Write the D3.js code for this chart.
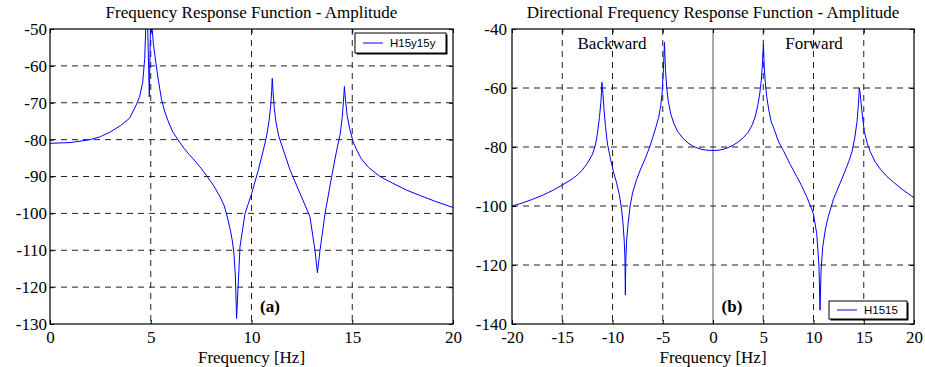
<!DOCTYPE html>
<html>
<head>
<meta charset="utf-8">
<script src="https://cdn.jsdelivr.net/npm/d3@7"></script>
<style>
  body { margin: 0; background: #fff; }
  svg { display: block; }
</style>
</head>
<body>
<div id="chart"></div>
<script>
// data
var leftFreq = [0, 1, 2, 2.5, 3, 3.5, 3.95, 4.28, 4.45, 4.6, 4.70, 4.76, 4.84, 4.93, 4.99, 5.04, 5.13, 5.25, 5.38, 5.53, 5.7, 5.9,
  6.1, 6.35, 6.6, 6.9, 7.2, 7.5, 7.8, 8.1, 8.44, 8.65, 8.8, 8.95, 9.05, 9.13, 9.2, 9.26, 9.43, 9.68, 10.01, 10.34, 10.59, 10.75,
  10.87, 10.95, 11.0, 11.03, 11.07, 11.13, 11.22, 11.35, 11.58, 11.91, 12.41, 12.9, 13.15, 13.27, 13.4, 13.65, 13.98, 14.23, 14.4,
  14.5, 14.56, 14.61, 14.66, 14.75, 14.87, 15.04, 15.22, 15.45, 15.8, 16.38, 17.0, 17.7, 18.43, 19.2, 20];
var leftAmp = [-81.0, -80.8, -80.0, -79.2, -77.9, -76.2, -74.2, -70.6, -68.3, -64.5, -58.0, -48, -48, -68.4, -48, -48, -54, -59, -64, -69,
  -72.5, -75.5, -78, -80, -82, -84, -85.8, -87.8, -90, -92.3, -95.5, -98, -101, -104.5, -107.5, -111, -117, -128.5, -109, -100,
  -94.6, -88.2, -82.8, -79, -75, -71, -67, -63.4, -67, -71.5, -75.5, -79, -82.8, -88.2, -94.6, -100.9, -110, -116.1, -110, -100, -90,
  -82.8, -78.5, -74, -70, -65.6, -69, -73.5, -77, -80.5, -82.8, -85.2, -87.5, -90, -91.8, -93.7, -95.3, -96.9, -98.4];

var rightFreq = [-20, -19, -18, -17, -16, -15, -14, -13.5, -13, -12.5, -12, -11.7, -11.5, -11.3, -11.15, -11.05, -10.95, -10.85,
  -10.7, -10.5, -10.2, -9.9, -9.6, -9.3, -9.1, -8.95, -8.83, -8.76, -8.72, -8.68, -8.6, -8.45, -8.25, -8.0, -7.6, -7.2, -6.73,
  -6.3, -6.0, -5.7, -5.41, -5.2, -5.07, -4.95, -4.83, -4.73, -4.6, -4.45, -4.2, -3.9, -3.5, -3.0, -2.5, -2, -1.5, -1, -0.5, 0,
  0.5, 1, 1.5, 2, 2.5, 3, 3.5, 3.9, 4.2, 4.45, 4.65, 4.8, 4.9, 5.02, 5.1, 5.2, 5.35, 5.55, 5.8, 6.04, 6.5, 7.0, 7.7, 8.33, 8.8,
  9.32, 9.7, 9.98, 10.32, 10.55, 10.65, 10.75, 10.92, 11.2, 11.47, 12.0, 12.64, 13.1, 13.5, 13.83, 14.1, 14.33, 14.48, 14.56,
  14.65, 14.8, 15.06, 15.35, 15.65, 16.1, 16.65, 17.3, 17.98, 19, 20];
var rightAmp = [-100, -99, -97.8, -96.4, -94.8, -92.9, -90.8, -89.5, -87.8, -85.5, -82.5, -79.3, -75.5, -70, -64.6, -58.1, -62, -67,
  -73, -79, -84, -88.5, -92, -96.5, -101, -106, -112, -118, -130.2, -119, -112, -106, -100, -95.5, -91, -87.5, -83.8,
  -80, -76.8, -73.5, -70, -66, -62, -55, -44.5, -54, -60, -64.5, -68.8, -72, -74.8, -77, -78.6, -79.7, -80.4, -80.9, -81.1, -81.2,
  -81.1, -80.8, -80.2, -79.4, -78.3, -76.9, -75, -72.5, -69.8, -66, -62, -57.5, -53, -45.1, -53, -58, -63, -67.5, -71.5, -73.5, -78, -81.2, -86, -90, -93,
  -96.8, -100, -102.5, -109.3, -120.6, -135.3, -122, -113.8, -107.5, -103.6, -97.5, -92.3, -88.5, -85, -81.6, -77, -71.4, -65, -59.9,
  -62, -67.5, -74.8, -78.8, -81.6, -84.8, -87.5, -90, -92, -94.8, -97.2];

var leftXTicks = [0, 5, 10, 15, 20];
var leftYTicks = [-50, -60, -70, -80, -90, -100, -110, -120, -130];
var rightXTicks = [-20, -15, -10, -5, 0, 5, 10, 15, 20];
var rightYTicks = [-40, -60, -80, -100, -120, -140];

var W = 925, H = 367;
var serif = "'Liberation Serif', 'Times New Roman', serif";
var sans = "'Liberation Sans', Arial, sans-serif";
var plain = d => String(d); // keep the short hyphen minus

var svg = d3.select("#chart").append("svg")
  .attr("width", W)
  .attr("height", H);

function addText(g, x, y, txt, size, anchor, weight, family) {
  return g.append("text")
    .attr("x", x).attr("y", y)
    .attr("text-anchor", anchor || "middle")
    .attr("font-family", family || serif)
    .attr("font-size", size)
    .attr("font-weight", weight || "normal")
    .attr("fill", "#000")
    .text(txt);
}

function panel(opt) {
  var x = d3.scaleLinear().domain(opt.xDomain).range([opt.left, opt.right]);
  var y = d3.scaleLinear().domain(opt.yDomain).range([opt.bottom, opt.top]);
  var g = svg.append("g");

  var clipId = "clip" + opt.id;
  svg.append("clipPath").attr("id", clipId)
    .append("rect")
    .attr("x", opt.left).attr("y", opt.top)
    .attr("width", opt.right - opt.left).attr("height", opt.bottom - opt.top);

  // grid
  g.selectAll(".vgrid")
    .data(opt.xTicks.filter(d => d != opt.xDomain[0] && d != opt.xDomain[1]))
    .enter().append("line")
    .attr("x1", d => x(d)).attr("x2", d => x(d))
    .attr("y1", opt.top).attr("y2", opt.bottom)
    .attr("stroke", "#222")
    .attr("stroke-width", 1)
    .attr("stroke-dasharray", d => (d == 0 ? null : "6,5"))
    .attr("stroke-opacity", d => (d == 0 ? 0.75 : 1));
  g.selectAll(".hgrid")
    .data(opt.yTicks.filter(d => d != opt.yDomain[0] && d != opt.yDomain[1]))
    .enter().append("line")
    .attr("x1", opt.left).attr("x2", opt.right)
    .attr("y1", d => y(d)).attr("y2", d => y(d))
    .attr("stroke", "#222")
    .attr("stroke-width", 1)
    .attr("stroke-dasharray", "6,5");

  // the curve
  var line = d3.line().x(d => x(d[0])).y(d => y(d[1]));
  var pts = opt.freq.map((f, i) => [f, opt.amp[i]]);
  g.append("path")
    .datum(pts)
    .attr("clip-path", `url(#${clipId})`)
    .attr("fill", "none")
    .attr("stroke", "#0000ff")
    .attr("stroke-width", 1)
    .attr("stroke-linejoin", "round")
    .attr("d", line);

  // axes with inward ticks
  var bottom = g.append("g").attr("transform", `translate(0,${opt.bottom})`)
    .call(d3.axisBottom(x).tickValues(opt.xTicks).tickFormat(plain).tickSize(-4).tickSizeOuter(0).tickPadding(7));
  bottom.selectAll("text")
    .attr("font-family", serif).attr("font-size", 17).attr("fill", "#000");
  g.append("g").attr("transform", `translate(0,${opt.top})`)
    .call(d3.axisTop(x).tickValues(opt.xTicks).tickSize(-4).tickSizeOuter(0).tickFormat(""));
  var leftAx = g.append("g").attr("transform", `translate(${opt.left},0)`)
    .call(d3.axisLeft(y).tickValues(opt.yTicks).tickFormat(plain).tickSize(-4).tickSizeOuter(0).tickPadding(opt.yPad));
  leftAx.selectAll("text")
    .attr("font-family", serif).attr("font-size", 17).attr("fill", "#000");
  g.append("g").attr("transform", `translate(${opt.right},0)`)
    .call(d3.axisRight(y).tickValues(opt.yTicks).tickSize(-4).tickSizeOuter(0).tickFormat(""));
  g.selectAll(".domain").remove();
  g.selectAll(".tick line").attr("stroke", "#000");

  g.append("rect")
    .attr("x", opt.left).attr("y", opt.top)
    .attr("width", opt.right - opt.left).attr("height", opt.bottom - opt.top)
    .attr("fill", "none").attr("stroke", "#000").attr("stroke-width", 1.2);

  // title and label
  addText(g, (opt.left + opt.right) / 2, 18, opt.title, 17);
  addText(g, (opt.left + opt.right) / 2, 363, "Frequency [Hz]", 17);
  addText(g, opt.tagX, 312, opt.tag, 17, "middle", "bold");

  // legend
  var L = opt.legend;
  g.append("rect").attr("x", L.x + 1.5).attr("y", L.y + 1.5).attr("width", L.w).attr("height", L.h)
    .attr("fill", "#000");
  g.append("rect").attr("x", L.x).attr("y", L.y).attr("width", L.w).attr("height", L.h)
    .attr("fill", "#fff").attr("stroke", "#000").attr("stroke-width", 1);
  g.append("line")
    .attr("x1", L.x + 8).attr("x2", L.x + 28)
    .attr("y1", L.y + L.h / 2).attr("y2", L.y + L.h / 2)
    .attr("stroke", "#0000ff").attr("stroke-width", 1);
  addText(g, L.x + 35, L.y + L.h / 2 + 4, L.text, 11.5, "start", "normal", sans);

  return g;
}

panel({
  id: "a", left: 50, right: 453, top: 29, bottom: 324, yPad: 3,
  xDomain: [0, 20], yDomain: [-130, -50],
  xTicks: leftXTicks, yTicks: leftYTicks,
  freq: leftFreq, amp: leftAmp,
  title: "Frequency Response Function - Amplitude",
  tag: "(a)", tagX: 270,
  legend: { x: 355, y: 33, w: 91, h: 20, text: "H15y15y" }
});

var right = panel({
  id: "b", left: 512, right: 914, top: 29, bottom: 324, yPad: 5,
  xDomain: [-20, 20], yDomain: [-140, -40],
  xTicks: rightXTicks, yTicks: rightYTicks,
  freq: rightFreq, amp: rightAmp,
  title: "Directional Frequency Response Function - Amplitude",
  tag: "(b)", tagX: 732,
  legend: { x: 829, y: 301, w: 78, h: 18, text: "H1515" }
});

addText(right, 612, 49, "Backward", 17);
addText(right, 814, 49, "Forward", 17);
</script>
</body>
</html>
